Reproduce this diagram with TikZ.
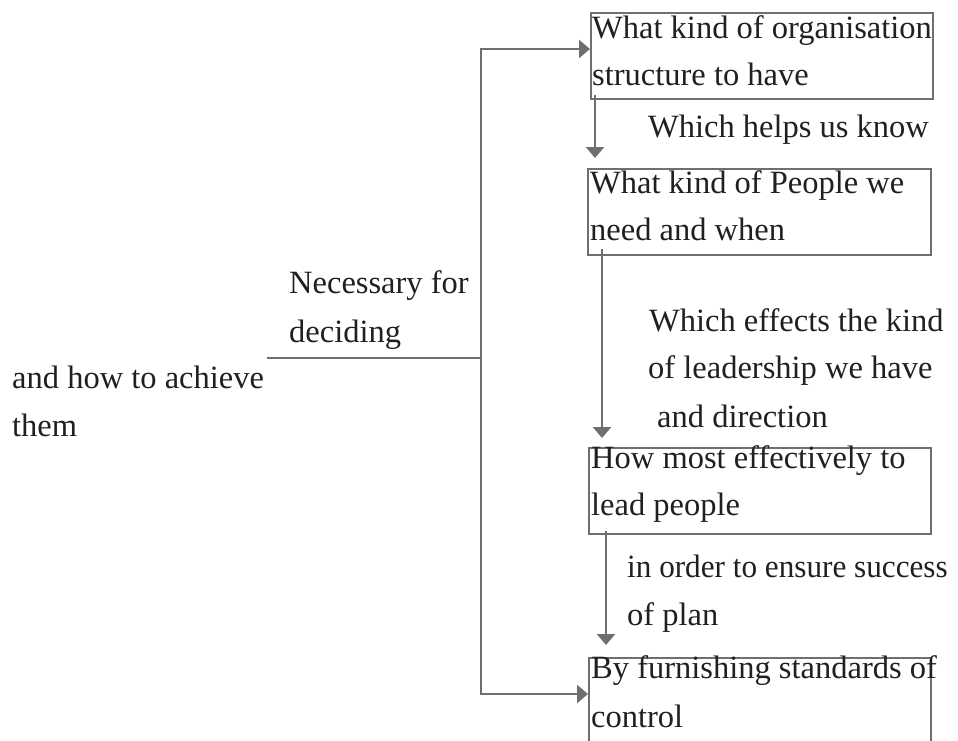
\documentclass[tikz,border=0pt]{standalone}
\usepackage{fontspec}
\setmainfont{Liberation Serif}
\usetikzlibrary{arrows.meta,calc}
\definecolor{lncol}{RGB}{110,111,114}
\definecolor{txcol}{RGB}{35,31,32}
\begin{document}
\begin{tikzpicture}[x=1pt,y=-1pt,
  boxstyle/.style={draw=lncol,line width=2.3pt,inner sep=0pt,anchor=north west},
  txt/.style={anchor=base west,inner sep=0pt,text=txcol,font=\fontsize{32.5}{48}\selectfont},
  arr/.style={draw=lncol,line width=2.5pt,-{Triangle[length=11pt,width=18pt]}},
  plain/.style={draw=lncol,line width=2.5pt}]
\useasboundingbox (0,0) rectangle (958,740);
\clip (0,0) rectangle (958,740);
% boxes
\node[boxstyle,minimum width=342pt,minimum height=86pt] (b1) at (590,12) {};
\node[boxstyle,minimum width=343pt,minimum height=86pt] (b2) at (587,168) {};
\node[boxstyle,minimum width=342pt,minimum height=86pt] (b3) at (588,447) {};
\node[boxstyle,minimum width=342pt,minimum height=110pt] (b4) at (588,657) {};
% box texts
\node[txt] (t1a) at (592,38) {What kind of organisation};
\node[txt] (t1b) at (592,85) {structure to have};
\node[txt] (t2a) at (590,193) {What kind of People we};
\node[txt] (t2b) at (590,240) {need and when};
\node[txt] (t3a) at (591,468) {How most effectively to};
\node[txt] (t3b) at (591,515) {lead people};
\node[txt] (t4a) at (591,678) {By furnishing standards of};
\node[txt] (t4b) at (591,727) {control};
% labels
\node[txt] (l1) at (648,137) {Which helps us know};
\node[txt] (l2a) at (649,331) {Which effects the kind};
\node[txt] (l2b) at (648,378) {of leadership we have};
\node[txt] (l2c) at (657,427) {and direction};
\node[txt] (l3a) at (627,577) {\addfontfeature{FakeStretch=0.96}in order to ensure success};
\node[txt] (l3b) at (627,625) {of plan};
\node[txt] (n1) at (289,293) {Necessary for};
\node[txt] (n2) at (289,342) {deciding};
\node[txt] (a1) at (12,388) {and how to achieve};
\node[txt] (a2) at (12,436) {them};
% connectors
\coordinate (j) at (481,358);
\coordinate (s) at (267,358);
\draw[plain] (s) -- (j);
\draw[arr] (j) |- ([yshift=-37pt]b1.north west);
\draw[arr] (j) |- ([yshift=-37pt]b4.north west);
\draw[arr] ($(b1.south west)+(5,-5)$) -- ($(b2.north west)+(8,-10)$);
\draw[arr] ($(b2.south west)+(15,-7)$) -- ($(b3.north west)+(14,-9)$);
\draw[arr] ($(b3.south west)+(18,-4)$) -- ($(b4.north west)+(18,-12)$);
\end{tikzpicture}
\end{document}
